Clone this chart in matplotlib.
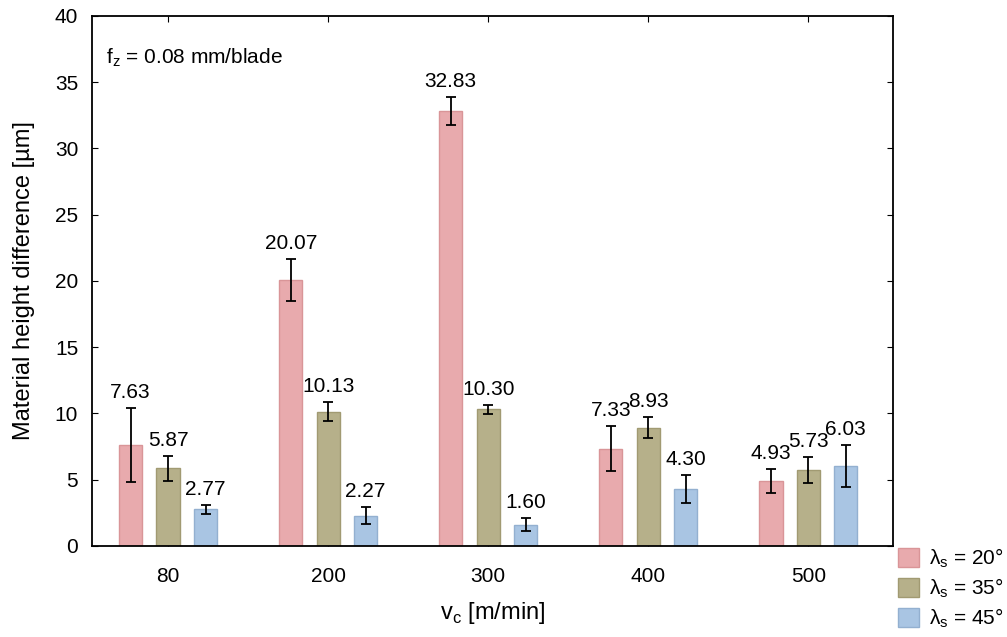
import matplotlib.pyplot as plt
import numpy as np

plt.rcParams['font.family'] = ['Liberation Sans', 'DejaVu Sans']
plt.rcParams['mathtext.fontset'] = 'custom'
plt.rcParams['mathtext.rm'] = 'Liberation Sans'

# Dados
velocidades = ["80", "200", "300", "400", "500"]
series = ["λ$_\\mathregular{s}$ = 20°", "λ$_\\mathregular{s}$ = 35°", "λ$_\\mathregular{s}$ = 45°"]
valores_20 = [7.63, 20.07, 32.83, 7.33, 4.93]
valores_35 = [5.87, 10.13, 10.30, 8.93, 5.73]
valores_45 = [2.77, 2.27, 1.60, 4.30, 6.03]
erros_20 = [2.8, 1.6, 1.08, 1.7, 0.9]
erros_35 = [0.95, 0.73, 0.35, 0.82, 0.97]
erros_45 = [0.33, 0.65, 0.5, 1.07, 1.6]
cores = ['#e8aaad', '#b6b08a', '#a9c5e3']
bordas = ['#d99598', '#a19a72', '#93b0d0']

fig = plt.figure(figsize=(10.07, 6.37), dpi=100)
ax = fig.add_axes([0.0914, 0.143, 0.7956, 0.832])

x = np.arange(len(velocidades))
largura = 0.145
passo = 0.234
for i, (vals, errs) in enumerate([(valores_20, erros_20), (valores_35, erros_35), (valores_45, erros_45)]):
    pos = x + (i - 1) * passo
    ax.bar(pos, vals, largura, color=cores[i], edgecolor=bordas[i], linewidth=1, label=series[i], zorder=2)
    ax.errorbar(pos, vals, yerr=errs, fmt='none', ecolor='black', elinewidth=1.3, capsize=3.5, capthick=1.3, zorder=3)
    for p, v, e in zip(pos, vals, errs):
        ax.text(p, v + e + 0.45, f"{v:.2f}", ha='center', va='bottom', fontsize=15)

ax.set_xlim(-0.475, 4.53)
ax.set_ylim(0, 40)
ax.set_yticks(range(0, 41, 5))
ax.set_xticks(x)
ax.set_xticklabels(velocidades)
ax.tick_params(direction='in', top=True, right=True, labelsize=15, length=4)
ax.tick_params(axis='x', pad=15)
ax.tick_params(axis='y', pad=10)
for s in ax.spines.values():
    s.set_linewidth(1.3)

ax.set_ylabel("Material height difference [µm]", fontsize=17, labelpad=14)
ax.set_xlabel("v$_\\mathregular{c}$ [m/min]", fontsize=17, labelpad=10)
ax.text(0.018, 0.922, "f$_\\mathregular{z}$ = 0.08 mm/blade", transform=ax.transAxes, fontsize=15, va='center')

ax.legend(loc='upper left', bbox_to_anchor=(0.888, 0.148), bbox_transform=fig.transFigure, frameon=False,
          fontsize=15, handlelength=1.0, handleheight=1.0, handletextpad=0.45, labelspacing=0.3,
          borderaxespad=0.0, borderpad=0.2)

fig.savefig("out.png", dpi=100)
